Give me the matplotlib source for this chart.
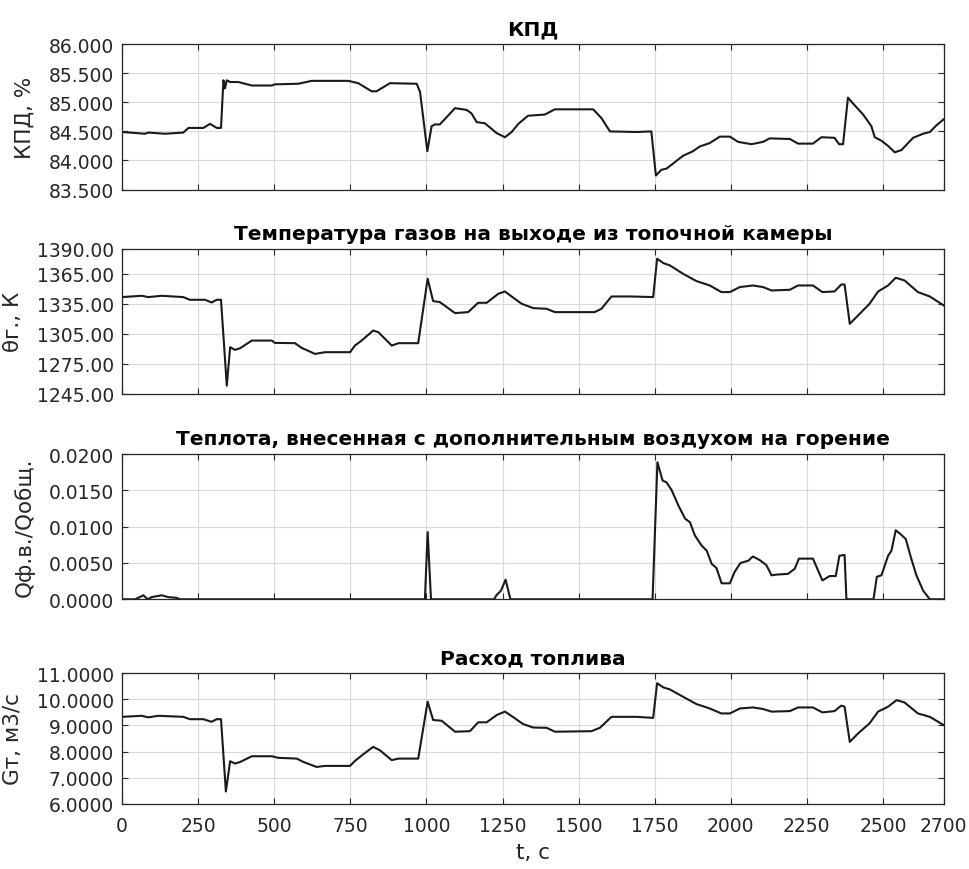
import numpy as np
import matplotlib
matplotlib.use('Agg')
import matplotlib.pyplot as plt
from matplotlib.ticker import FormatStrFormatter

plt.rcParams['font.family'] = ['DejaVu Sans']

# KPD, %
t_kpd = [0, 75, 86, 141, 201, 218, 267, 289, 311, 325, 333, 338, 344, 355, 382, 426, 492, 502,
         579, 623, 743, 776, 820, 836, 880, 968, 979, 1003, 1017, 1028, 1044, 1094, 1132, 1148,
         1165, 1192, 1231, 1258, 1280, 1302, 1334, 1389, 1422, 1548, 1575, 1603, 1690, 1739,
         1754, 1772, 1789, 1843, 1876, 1898, 1931, 1964, 1997, 2024, 2068, 2106, 2128, 2194,
         2221, 2270, 2298, 2341, 2356, 2369, 2385, 2407, 2435, 2462, 2473, 2495, 2517, 2539,
         2561, 2599, 2632, 2654, 2675, 2700]
kpd = [84.49, 84.46, 84.48, 84.46, 84.48, 84.56, 84.56, 84.63, 84.56, 84.56, 85.38, 85.24, 85.38,
       85.35, 85.35, 85.29, 85.29, 85.31, 85.32, 85.37, 85.37, 85.33, 85.19, 85.19, 85.33, 85.32,
       85.18, 84.16, 84.59, 84.62, 84.62, 84.90, 84.87, 84.81, 84.66, 84.64, 84.47, 84.40, 84.49,
       84.63, 84.77, 84.79, 84.88, 84.88, 84.73, 84.50, 84.49, 84.50, 83.74, 83.84, 83.86, 84.08,
       84.16, 84.24, 84.30, 84.41, 84.41, 84.32, 84.28, 84.32, 84.38, 84.37, 84.29, 84.29, 84.40,
       84.39, 84.28, 84.28, 85.08, 84.95, 84.79, 84.59, 84.40, 84.34, 84.25, 84.14, 84.18, 84.39,
       84.46, 84.49, 84.60, 84.71]

# gas temperature, K
t_gas = [0, 65, 86, 130, 201, 223, 273, 294, 311, 325, 344, 355, 371, 388, 426, 492, 502, 568,
         590, 634, 667, 749, 765, 787, 825, 842, 886, 908, 973, 1004, 1022, 1044, 1094, 1137,
         1170, 1198, 1236, 1258, 1280, 1313, 1351, 1395, 1422, 1553, 1575, 1608, 1674, 1745,
         1758, 1778, 1800, 1843, 1887, 1931, 1969, 1997, 2030, 2073, 2106, 2134, 2194, 2221,
         2270, 2301, 2341, 2363, 2374, 2391, 2418, 2456, 2484, 2517, 2542, 2571, 2615, 2654, 2700]
gas = [1341.7, 1343.0, 1341.7, 1343.0, 1341.7, 1339.0, 1339.0, 1336.3, 1339.0, 1339.0, 1253.3,
       1291.7, 1289.0, 1290.7, 1298.3, 1298.3, 1296.0, 1295.7, 1291.0, 1285.0, 1286.7, 1286.7,
       1293.3, 1298.3, 1308.3, 1306.7, 1293.3, 1295.7, 1295.7, 1360.0, 1337.7, 1336.7, 1325.7,
       1326.7, 1336.0, 1336.0, 1345.0, 1347.3, 1342.3, 1335.0, 1330.7, 1330.0, 1326.7, 1326.7,
       1330.0, 1342.3, 1342.3, 1341.7, 1380.0, 1375.7, 1373.3, 1365.0, 1357.7, 1353.3, 1346.7,
       1346.7, 1351.7, 1353.3, 1351.7, 1348.3, 1349.0, 1353.3, 1353.3, 1346.7, 1347.3, 1354.3,
       1354.3, 1315.0, 1323.3, 1335.0, 1347.3, 1353.3, 1361.0, 1358.3, 1346.7, 1342.3, 1333.3]

# heat from additional air, share
t_q = [0, 43, 70, 84, 97, 130, 152, 180, 190, 995, 1004, 1015, 1222, 1230, 1245, 1260, 1276, 1743,
       1759, 1776, 1789, 1806, 1828, 1850, 1866, 1882, 1904, 1921, 1937, 1953, 1970, 1997, 2013,
       2032, 2057, 2073, 2095, 2117, 2134, 2150, 2188, 2210, 2224, 2270, 2301, 2325, 2345, 2357,
       2374, 2380, 2469, 2480, 2495, 2517, 2528, 2542, 2557, 2575, 2593, 2610, 2632, 2654, 2700]
q = [0, 0, 0.00055, 0, 0.0003, 0.00055, 0.0003, 0.0002, 0, 0, 0.00925, 0, 0, 0.00055, 0.0012,
     0.0027, 0, 0, 0.01886, 0.01634, 0.0161, 0.0150, 0.0129, 0.0111, 0.0106, 0.0088, 0.0074,
     0.0067, 0.0049, 0.0043, 0.0022, 0.0022, 0.0038, 0.0050, 0.0053, 0.0059, 0.0054, 0.0047,
     0.0033, 0.0034, 0.0035, 0.0042, 0.0056, 0.0056, 0.0026, 0.0032, 0.0032, 0.0060, 0.0061, 0,
     0, 0.0031, 0.0033, 0.0060, 0.0067, 0.0095, 0.0090, 0.0083, 0.0056, 0.0033, 0.0012, 0, 0]

# fuel flow, m3/s
t_fuel = [0, 65, 86, 119, 201, 223, 267, 294, 311, 325, 341, 355, 371, 388, 426, 492, 513, 574,
          596, 639, 667, 749, 765, 793, 825, 847, 886, 908, 973, 1004, 1022, 1050, 1094, 1143,
          1170, 1198, 1231, 1258, 1280, 1318, 1351, 1395, 1422, 1542, 1570, 1608, 1690, 1745,
          1758, 1778, 1800, 1843, 1887, 1931, 1969, 1997, 2030, 2073, 2106, 2134, 2194, 2221,
          2270, 2301, 2341, 2363, 2374, 2391, 2418, 2456, 2484, 2517, 2545, 2571, 2615, 2654, 2700]
fuel = [9.33, 9.37, 9.31, 9.37, 9.33, 9.24, 9.24, 9.14, 9.24, 9.24, 6.47, 7.63, 7.54, 7.60, 7.82,
        7.82, 7.76, 7.73, 7.60, 7.41, 7.45, 7.45, 7.64, 7.90, 8.18, 8.05, 7.67, 7.73, 7.73, 9.91,
        9.21, 9.18, 8.76, 8.78, 9.12, 9.12, 9.40, 9.53, 9.36, 9.05, 8.92, 8.91, 8.76, 8.78, 8.91,
        9.33, 9.33, 9.29, 10.62, 10.46, 10.38, 10.10, 9.82, 9.65, 9.46, 9.46, 9.65, 9.69, 9.63,
        9.53, 9.55, 9.69, 9.69, 9.50, 9.55, 9.76, 9.72, 8.37, 8.69, 9.08, 9.53, 9.72, 9.97, 9.88,
        9.46, 9.33, 9.01]

xticks = [0, 250, 500, 750, 1000, 1250, 1500, 1750, 2000, 2250, 2500, 2700]

panels = [
    (t_kpd, kpd, 'КПД', 'КПД, %', [83.5, 84, 84.5, 85, 85.5, 86], '%.3f'),
    (t_gas, gas, 'Температура газов на выходе из топочной камеры', 'θг., К',
     [1245, 1275, 1305, 1335, 1365, 1390], '%.2f'),
    (t_q, q, 'Теплота, внесенная с дополнительным воздухом на горение', 'Qф.в./Qобщ.',
     [0, 0.005, 0.01, 0.015, 0.02], '%.4f'),
    (t_fuel, fuel, 'Расход топлива', 'Gт, м3/с', [6, 7, 8, 9, 10, 11], '%.4f'),
]

# axes boxes [left, bottom, width, height] in figure fraction
boxes = [[0.126, 0.781, 0.848, 0.167],
         [0.126, 0.546, 0.848, 0.167],
         [0.126, 0.310, 0.848, 0.167],
         [0.126, 0.075, 0.848, 0.150]]

fig = plt.figure(figsize=(9.69, 8.70), dpi=100)

for i, (tt, yy, title, ylab, yt, fmt) in enumerate(panels):
    ax = fig.add_axes(boxes[i])
    ax.plot(tt, yy, color='#1a1a1a', linewidth=1.5)
    ax.set_xlim(0, 2700)
    ax.set_ylim(yt[0], yt[-1])
    ax.set_xticks(xticks)
    ax.set_yticks(yt)
    ax.yaxis.set_major_formatter(FormatStrFormatter(fmt))
    ax.grid(True, color='#d9d9d9', linewidth=0.8)
    ax.tick_params(direction='in', top=True, right=True, labelsize=13.5,
                   colors='#262626', length=4, pad=6)
    ax.tick_params(axis='x', pad=9)
    for s in ax.spines.values():
        s.set_color('#262626')
        s.set_linewidth(0.9)
    ax.set_title(title, fontsize=14.5, fontweight='bold', pad=7)
    ax.set_ylabel(ylab, fontsize=15.5, color='#262626', labelpad=10)
    if i < 3:
        ax.set_xticklabels([])
    else:
        ax.set_xlabel('t, с', fontsize=15.5, color='#262626', labelpad=5)

plt.savefig('out.png', dpi=100)
